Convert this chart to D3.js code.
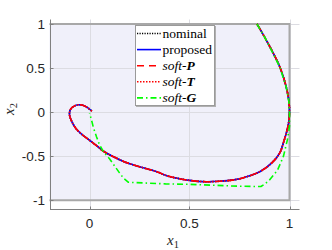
<!DOCTYPE html>
<html><head><meta charset="utf-8">
<script src="https://cdn.jsdelivr.net/npm/d3@7"></script>
<style>body{margin:0;background:#fff}svg{display:block}</style>
</head><body>
<svg id="c" width="332" height="250"></svg>
<script>
// ---- data ----
const xTicks = [0, 0.5, 1];
const yTicks = [-1, -0.5, 0, 0.5, 1];
const xTickLabels = ["0", "0.5", "1"];
const yTickLabels = ["-1", "-0.5", "0", "0.5", "1"];
// shared trajectory (nominal / proposed / soft-P / soft-T), from start to origin
const mainX = [0.837, 0.883, 0.95, 0.983, 0.997, 1.0, 0.995, 0.985, 0.972, 0.95, 0.91, 0.853, 0.77, 0.72, 0.65, 0.58, 0.5, 0.39, 0.34, 0.22, 0.17, 0.07, 0.04, 0.0, -0.04, -0.07, -0.09, -0.1, -0.095, -0.075, -0.055, -0.03, -0.01, 0.012];
const mainY = [1.0, 0.82, 0.52, 0.29, 0.12, 0.0, -0.13, -0.23, -0.33, -0.47, -0.58, -0.675, -0.745, -0.77, -0.785, -0.79, -0.775, -0.725, -0.68, -0.6, -0.56, -0.445, -0.39, -0.32, -0.25, -0.18, -0.1, -0.03, 0.03, 0.07, 0.083, 0.075, 0.05, 0.01];
// soft-G trajectory
const softGX = [0.837, 0.883, 0.95, 0.983, 0.997, 1.0, 1.0, 0.99, 0.97, 0.94, 0.9, 0.875, 0.857, 0.75, 0.5, 0.38, 0.195, 0.17, 0.15, 0.128, 0.1, 0.07, 0.05, 0.035, 0.02, 0.01, 0.0];
const softGY = [1.0, 0.82, 0.52, 0.29, 0.12, 0.0, -0.16, -0.31, -0.5, -0.66, -0.77, -0.82, -0.845, -0.842, -0.82, -0.815, -0.797, -0.75, -0.69, -0.62, -0.53, -0.45, -0.37, -0.28, -0.18, -0.09, -0.01];
const seriesNames = ["nominal", "proposed", "soft-P", "soft-T", "soft-G"];
const seriesColors = ["#000000", "#0000ff", "#ff0000", "#ff0000", "#00ff00"];
const seriesDash = ["1.2,1.3", null, "7,5", "1.5,1.5", "6,3,1.5,3"];
const seriesData = [
  [mainX, mainY], [mainX, mainY], [mainX, mainY], [mainX, mainY], [softGX, softGY]
];

// ---- chart ----
const svg = d3.select("#c");
const x = d3.scaleLinear().domain([-0.2, 1.05]).range([49.5, 299.5]);
const y = d3.scaleLinear().domain([-1.1, 1.05]).range([209, 19.5]);

// shaded feasible region
svg.append("rect")
  .attr("x", x(-0.2)).attr("y", y(1))
  .attr("width", x(1) - x(-0.2)).attr("height", y(-1) - y(1))
  .attr("fill", "#f0f0fa");

// grid
const grid = svg.append("g").attr("stroke", "#dcdce2").attr("stroke-width", 1);
xTicks.forEach(t => grid.append("line")
  .attr("x1", Math.round(x(t)) + 0.5).attr("x2", Math.round(x(t)) + 0.5)
  .attr("y1", y(1.05)).attr("y2", y(-1.1)));
yTicks.forEach(t => grid.append("line")
  .attr("y1", Math.round(y(t)) + 0.5).attr("y2", Math.round(y(t)) + 0.5)
  .attr("x1", x(-0.2)).attr("x2", x(1.05)));

// constraint boundaries
const cb = svg.append("g").attr("stroke", "#a8a8a8").attr("stroke-width", 2).attr("fill", "none");
cb.append("path").attr("d", d3.line()([[x(-0.2), y(1)], [x(1), y(1)], [x(1), y(-1)], [x(-0.2), y(-1)]]));

// axes
const axG = svg.append("g").attr("stroke", "#808080").attr("stroke-width", 1);
axG.append("line").attr("x1", 50.5).attr("x2", 50.5).attr("y1", y(1.05)).attr("y2", 209.5);
axG.append("line").attr("x1", 50).attr("x2", x(1.05)).attr("y1", 209.5).attr("y2", 209.5);
xTicks.forEach(t => axG.append("line")
  .attr("x1", Math.round(x(t)) + 0.5).attr("x2", Math.round(x(t)) + 0.5)
  .attr("y1", 209.5).attr("y2", 206.5));
yTicks.forEach(t => axG.append("line")
  .attr("y1", Math.round(y(t)) + 0.5).attr("y2", Math.round(y(t)) + 0.5)
  .attr("x1", 50.5).attr("x2", 53.5));

const tickFont = "'Liberation Sans', Arial, sans-serif";
xTicks.forEach((t, i) => svg.append("text")
  .attr("x", x(t)).attr("y", 228)
  .attr("text-anchor", "middle").attr("font-family", tickFont).attr("font-size", 13.5)
  .attr("fill", "#262626").text(xTickLabels[i]));
yTicks.forEach((t, i) => svg.append("text")
  .attr("x", 45).attr("y", y(t) + 4.8)
  .attr("text-anchor", "end").attr("font-family", tickFont).attr("font-size", 13.5)
  .attr("fill", "#262626").text(yTickLabels[i]));

// axis labels
const serif = "'Liberation Serif'";
const xl = svg.append("text").attr("x", 167).attr("y", 244.5)
  .attr("font-family", serif).attr("font-size", 15).attr("fill", "#262626");
xl.append("tspan").attr("font-style", "italic").text("x");
xl.append("tspan").attr("font-size", 10.5).attr("dy", 3).text("1");
const yl = svg.append("text").attr("transform", "translate(14,115) rotate(-90)")
  .attr("font-family", serif).attr("font-size", 15).attr("fill", "#262626");
yl.append("tspan").attr("font-style", "italic").text("x");
yl.append("tspan").attr("font-size", 10.5).attr("dy", 3).text("2");

// trajectories
const line = d3.line().x(d => x(d[0])).y(d => y(d[1])).curve(d3.curveCatmullRom.alpha(0.5));
const lineLin = d3.line().x(d => x(d[0])).y(d => y(d[1]));
seriesData.forEach((s, i) => {
  const pts = s[0].map((v, k) => [v, s[1][k]]);
  svg.append("path")
    .attr("d", i === 4 ? lineLin(pts) : line(pts))
    .attr("fill", "none").attr("stroke", seriesColors[i])
    .attr("stroke-width", 1.6)
    .attr("stroke-dasharray", seriesDash[i])
    .attr("stroke-linejoin", "round");
});

// legend
const lg = svg.append("g");
lg.append("rect").attr("x", 135.5).attr("y", 25.5).attr("width", 79).attr("height", 80)
  .attr("fill", "#ffffff").attr("stroke", "#9a9a9a").attr("stroke-width", 1);
lg.append("line").attr("x1", 215.5).attr("x2", 215.5).attr("y1", 26).attr("y2", 106.5)
  .attr("stroke", "#b0b0b0").attr("stroke-width", 1);
lg.append("line").attr("x1", 136).attr("x2", 216).attr("y1", 106.5).attr("y2", 106.5)
  .attr("stroke", "#b0b0b0").attr("stroke-width", 1);
seriesNames.forEach((n, i) => {
  const cy = 33.5 + i * 16.1;
  lg.append("line").attr("x1", 137).attr("x2", 161).attr("y1", cy).attr("y2", cy)
    .attr("stroke", seriesColors[i]).attr("stroke-width", 1.6)
    .attr("stroke-dasharray", seriesDash[i]);
  const t = lg.append("text").attr("x", 162.5).attr("y", cy + 4)
    .attr("font-family", serif).attr("font-size", 13.5).attr("fill", "#000");
  if (n.startsWith("soft-")) {
    t.append("tspan").attr("font-style", "italic").text("soft-");
    t.append("tspan").attr("font-style", "italic").attr("font-weight", "bold").text(n.slice(5));
  } else {
    t.text(n);
  }
});
</script>
</body></html>
